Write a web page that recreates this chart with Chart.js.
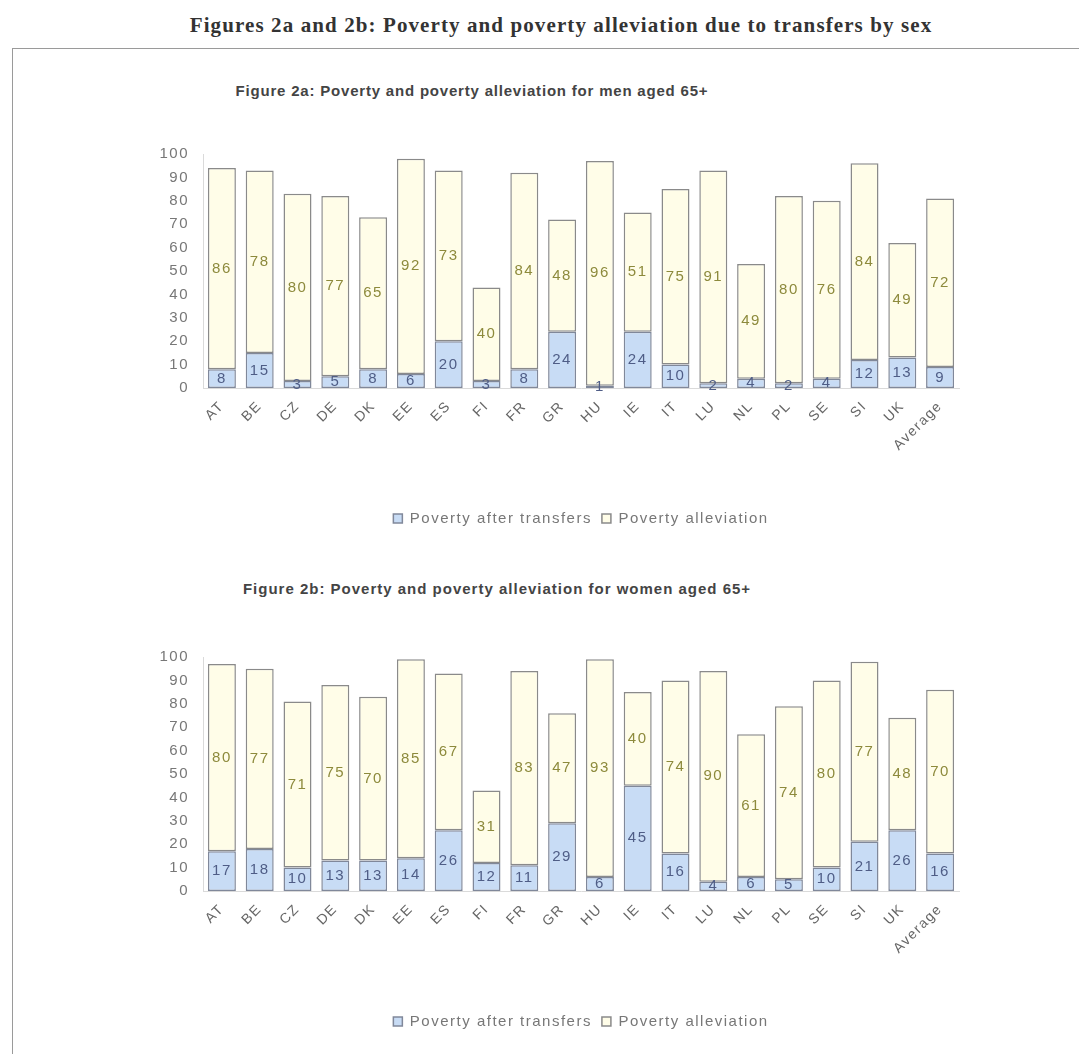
<!DOCTYPE html>
<html>
<head>
<meta charset="utf-8">
<script src="https://cdn.jsdelivr.net/npm/chart.js@4.4.0/dist/chart.umd.min.js"></script>
<style>
    body { margin: 0; background: #fff; width: 1079px; height: 1054px; position: relative; overflow: hidden; font-family: Arial, "Liberation Sans", sans-serif; }
    .page-title { position: absolute; top: 13px; left: 561px; transform: translateX(-50%); white-space: nowrap; font-family: "Liberation Serif", "Times New Roman", serif; font-weight: bold; font-size: 21px; letter-spacing: 1.1px; color: #333; }
    .frame { position: absolute; left: 12px; top: 48px; width: 1100px; height: 1100px; border-top: 1.5px solid #9a9a9a; border-left: 1.5px solid #9a9a9a; }
    .chart-title { position: absolute; transform: translateX(-50%); white-space: nowrap; font-weight: bold; font-size: 15px; color: #444; }
    .chart-box { position: absolute; left: 0; }
</style>
</head>
<body>
<div class="page-title">Figures 2a and 2b: Poverty and poverty alleviation due to transfers by sex</div>
<div class="frame"></div>

<div class="chart-title" style="left:472px; top:82px; letter-spacing:0.8px;">Figure 2a: Poverty and poverty alleviation for men aged 65+</div>
<div class="chart-box" style="top:120px;"><canvas id="chartMen" width="1079" height="416"></canvas></div>

<div class="chart-title" style="left:497px; top:580px; letter-spacing:1px;">Figure 2b: Poverty and poverty alleviation for women aged 65+</div>
<div class="chart-box" style="top:623px;"><canvas id="chartWomen" width="1079" height="416"></canvas></div>

<script>
// --- Datos ---
const countries = ['AT', 'BE', 'CZ', 'DE', 'DK', 'EE', 'ES', 'FI', 'FR', 'GR', 'HU', 'IE', 'IT', 'LU', 'NL', 'PL', 'SE', 'SI', 'UK', 'Average'];
const seriesNames = ['Poverty after transfers', 'Poverty alleviation'];

const menAfter = [8, 15, 3, 5, 8, 6, 20, 3, 8, 24, 1, 24, 10, 2, 4, 2, 4, 12, 13, 9];
const menAlleviation = [86, 78, 80, 77, 65, 92, 73, 40, 84, 48, 96, 51, 75, 91, 49, 80, 76, 84, 49, 72];

const womenAfter = [17, 18, 10, 13, 13, 14, 26, 12, 11, 29, 6, 45, 16, 4, 6, 5, 10, 21, 26, 16];
const womenAlleviation = [80, 77, 71, 75, 70, 85, 67, 31, 83, 47, 93, 40, 74, 90, 61, 74, 80, 77, 48, 70];

const yTicks = [0, 10, 20, 30, 40, 50, 60, 70, 80, 90, 100];

// espaciado de letras como en el escaneo
const spacing = {
    id: 'spacing',
    beforeLayout(chart) { chart.ctx.letterSpacing = '1.5px'; },
    beforeDraw(chart) { chart.ctx.letterSpacing = '1.5px'; }
};

// etiquetas dentro de cada segmento
const barLabels = {
    id: 'barLabels',
    afterDatasetsDraw(chart) {
        const ctx = chart.ctx;
        ctx.save();
        ctx.font = '15px Arial';
        ctx.textAlign = 'center';
        ctx.textBaseline = 'middle';
        chart.data.datasets.forEach((ds, i) => {
            ctx.fillStyle = ds.labelColor;
            chart.getDatasetMeta(i).data.forEach((bar, j) => {
                const p = bar.getProps(['x', 'y', 'base'], true);
                ctx.fillText(String(ds.data[j]), p.x, (p.y + p.base) / 2);
            });
        });
        ctx.restore();
    }
};

function makeChart(id, after, alleviation) {
    return new Chart(document.getElementById(id), {
        type: 'bar',
        data: {
            labels: countries,
            datasets: [{
                label: seriesNames[0],
                data: after,
                backgroundColor: '#c8dcf5',
                borderColor: '#80889a',
                borderWidth: 1.5,
                borderSkipped: false,
                labelColor: '#4f5d86',
                barPercentage: 0.74,
                categoryPercentage: 1.0
            }, {
                label: seriesNames[1],
                data: alleviation,
                backgroundColor: '#fffde8',
                borderColor: '#8a8a8a',
                borderWidth: 1.5,
                borderSkipped: false,
                labelColor: '#8d8a3c',
                barPercentage: 0.74,
                categoryPercentage: 1.0
            }]
        },
        options: {
            responsive: false,
            animation: false,
            layout: { padding: { top: 34, left: 140, right: 120, bottom: 0 } },
            scales: {
                x: {
                    stacked: true,
                    grid: { display: false, drawTicks: false },
                    border: { color: '#dadada' },
                    ticks: { minRotation: 45, maxRotation: 45, color: '#666', font: { size: 14, family: 'Arial' }, padding: 10 },
                    afterFit: s => { s.height = 113; }
                },
                y: {
                    stacked: true,
                    min: 0,
                    max: 100,
                    afterBuildTicks: s => { s.ticks = yTicks.map(v => ({ value: v })); },
                    grid: { display: false, drawTicks: false },
                    border: { color: '#dadada' },
                    ticks: { color: '#777', font: { size: 15, family: 'Arial' }, padding: 14 },
                    afterFit: s => { s.width = 63; }
                }
            },
            plugins: {
                legend: {
                    position: 'bottom',
                    fullSize: false,
                    labels: { boxWidth: 9, boxHeight: 9, color: '#777', font: { size: 15, family: 'Arial' }, padding: 10 }
                },
                tooltip: { enabled: false }
            }
        },
        plugins: [spacing, barLabels]
    });
}

window.onload = () => {
    makeChart('chartMen', menAfter, menAlleviation);
    makeChart('chartWomen', womenAfter, womenAlleviation);
};
</script>
</body>
</html>
